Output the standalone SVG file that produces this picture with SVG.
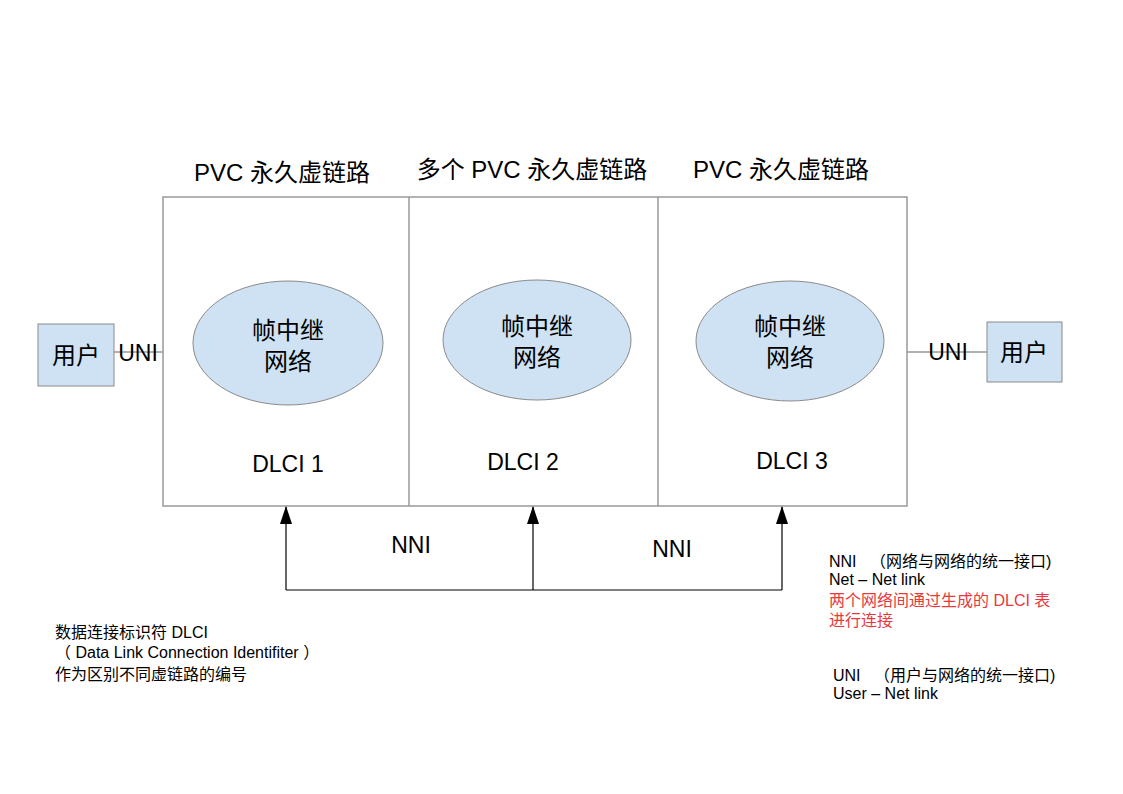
<svg xmlns="http://www.w3.org/2000/svg" width="1123" height="794" viewBox="0 0 1123 794">
<defs>
<marker id="ah" markerWidth="18" markerHeight="12" refX="17" refY="6" orient="auto" markerUnits="userSpaceOnUse" viewBox="0 0 18 12">
<path d="M18,6 L0,0 L0,12 Z" fill="#000"/>
</marker>
<style>
text{font-family:"Liberation Sans","Noto Sans CJK SC",sans-serif;fill:#000}
.t{font-size:24px;text-anchor:middle}
.m{font-size:23px;text-anchor:middle}
.c{font-size:24px;text-anchor:middle}
.s{font-size:16px}
.red{fill:#e8383d}
.blue{fill:#cfe2f3;stroke:#8a8a8a;stroke-width:1}
.frame{fill:#fff;stroke:#999;stroke-width:1.5}
.ln{stroke:#999;stroke-width:1.5;fill:none}
.ar{stroke:#000;stroke-width:1.2;fill:none}
</style>
</defs>
<rect width="1123" height="794" fill="#fff"/>
<g id="frame">
<rect class="frame" x="163" y="197" width="744" height="309"/>
<line class="ln" x1="409" y1="197" x2="409" y2="506"/>
<line class="ln" x1="658" y1="197" x2="658" y2="506"/>
</g>
<g id="titles">
<text class="t" x="282" y="181">PVC 永久虚链路</text>
<text class="t" x="532" y="178">多个 PVC 永久虚链路</text>
<text class="t" x="781" y="178">PVC 永久虚链路</text>
</g>
<g id="net1">
<ellipse class="blue" cx="288" cy="343" rx="95" ry="62"/>
<text class="c" x="288" y="339">帧中继</text>
<text class="c" x="288" y="370">网络</text>
<text class="m" x="288" y="472">DLCI 1</text>
</g>
<g id="net2">
<ellipse class="blue" cx="537" cy="340" rx="94" ry="60"/>
<text class="c" x="537" y="335">帧中继</text>
<text class="c" x="537" y="366">网络</text>
<text class="m" x="523" y="470">DLCI 2</text>
</g>
<g id="net3">
<ellipse class="blue" cx="790" cy="341" rx="94" ry="60"/>
<text class="c" x="790" y="335">帧中继</text>
<text class="c" x="790" y="366">网络</text>
<text class="m" x="792" y="469">DLCI 3</text>
</g>
<g id="userL">
<rect class="blue" x="38" y="324" width="76" height="62"/>
<text class="c" x="76" y="364">用户</text>
</g>
<g id="userR">
<rect class="blue" x="987" y="322" width="75" height="60"/>
<text class="c" x="1024" y="361">用户</text>
</g>
<g id="connectors">
<line class="ln" x1="114" y1="352" x2="163" y2="352"/>
<line class="ln" x1="907" y1="352" x2="987" y2="352"/>
<line class="ar" x1="286" y1="590" x2="782" y2="590"/>
<line class="ar" x1="286" y1="590" x2="286" y2="507" marker-end="url(#ah)"/>
<line class="ar" x1="533" y1="590" x2="533" y2="507" marker-end="url(#ah)"/>
<line class="ar" x1="782" y1="590" x2="782" y2="507" marker-end="url(#ah)"/>
</g>
<g id="labels">
<text class="m" x="138" y="361">UNI</text>
<text class="m" x="948" y="360">UNI</text>
<text class="m" x="411" y="553">NNI</text>
<text class="m" x="672" y="557">NNI</text>
</g>
<g id="notes">
<text class="s" x="829" y="567" xml:space="preserve">NNI   （网络与网络的统一接口)</text>
<text class="s" x="829" y="585">Net – Net link</text>
<text class="s red" x="829" y="606">两个网络间通过生成的 DLCI 表</text>
<text class="s red" x="829" y="626">进行连接</text>
<text class="s" x="833" y="681" xml:space="preserve">UNI   （用户与网络的统一接口)</text>
<text class="s" x="833" y="699">User – Net link</text>
<text class="s" x="55" y="638">数据连接标识符 DLCI</text>
<text class="s" x="55" y="658" xml:space="preserve">（ Data Link Connection Identifiter ）</text>
<text class="s" x="55" y="680">作为区别不同虚链路的编号</text>
</g>
</svg>
